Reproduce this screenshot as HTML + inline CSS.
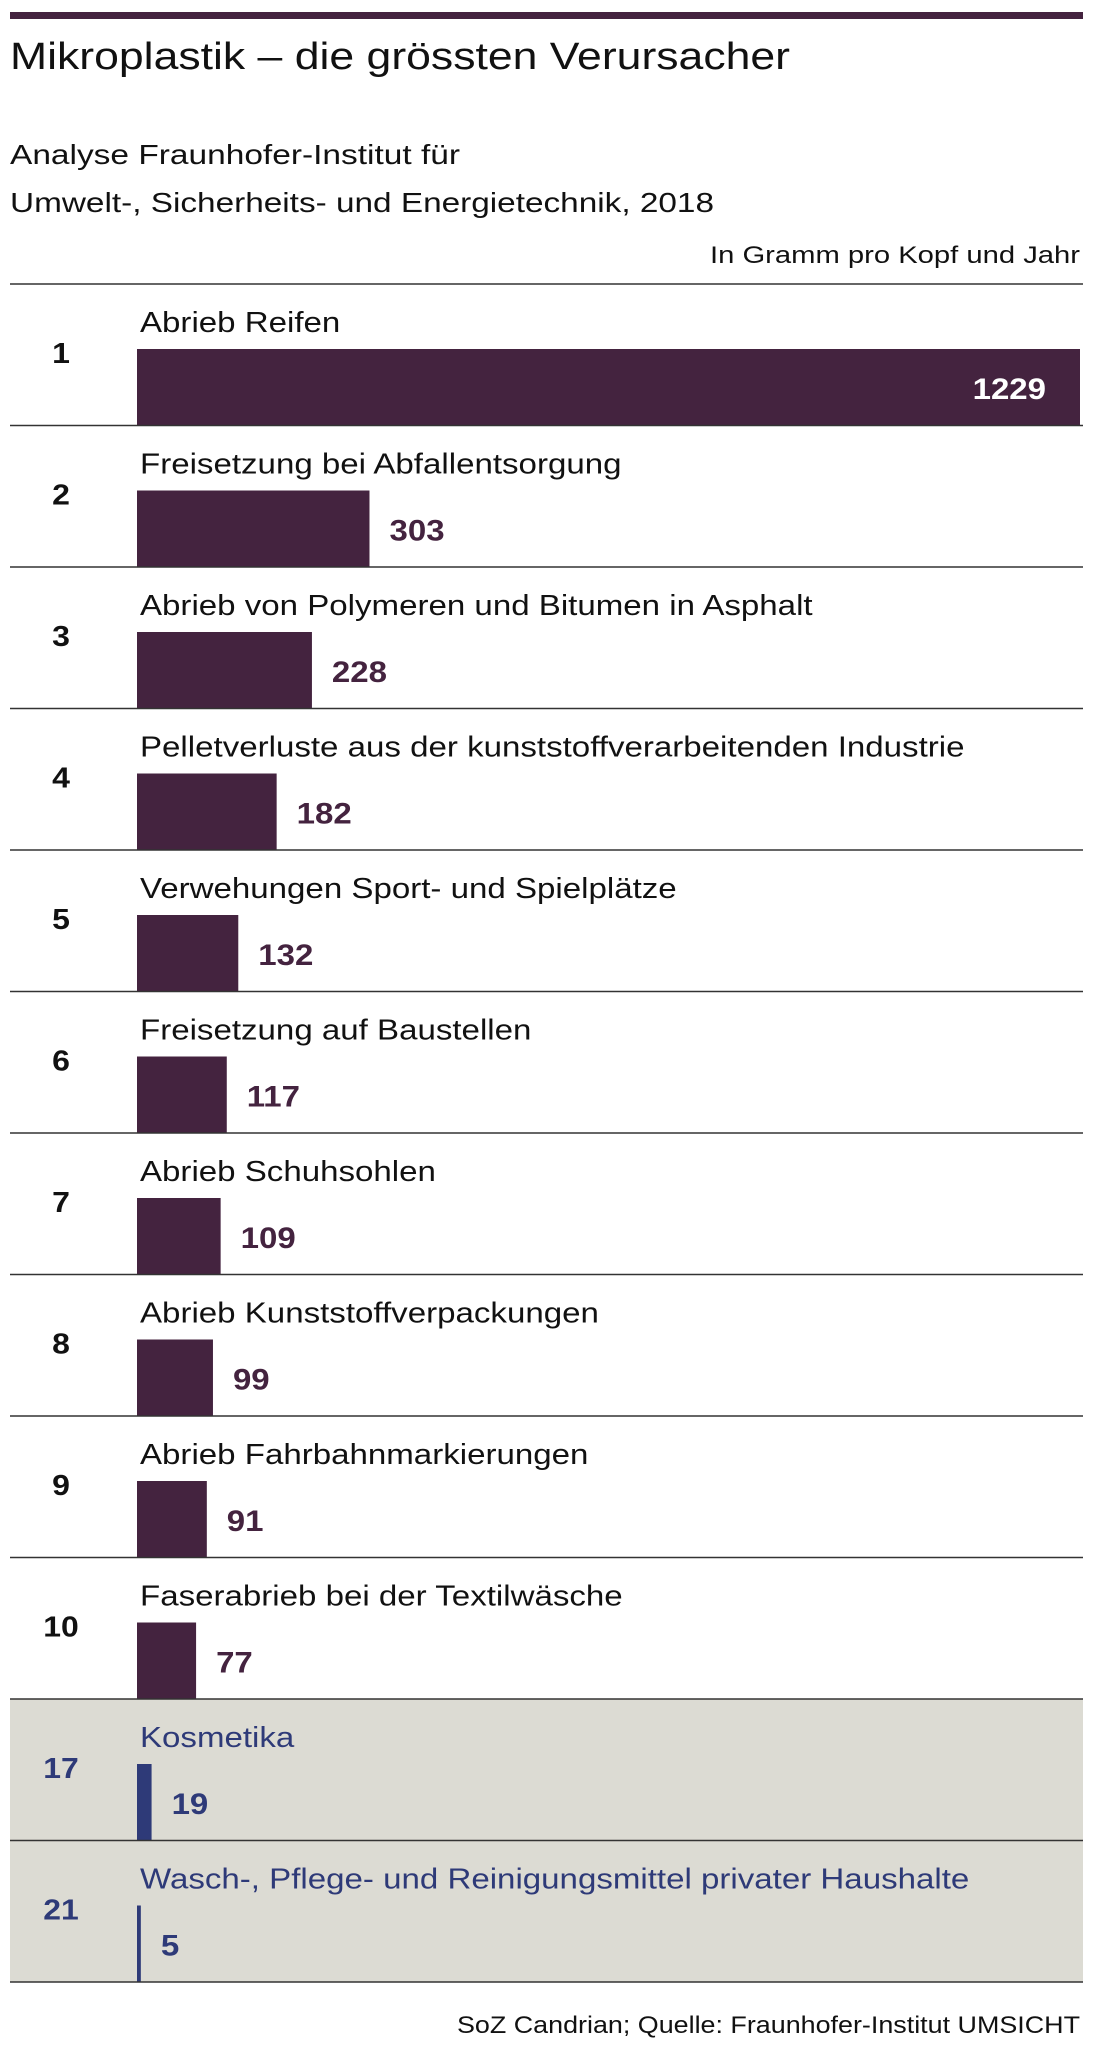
<!DOCTYPE html>
<html><head><meta charset="utf-8">
<style>
html,body{margin:0;padding:0;background:#fff;}
body{width:1093px;height:2048px;overflow:hidden;font-family:"Liberation Sans",sans-serif;}
svg{display:block}
</style></head>
<body>
<svg id="chart" width="1093" height="2048" xmlns="http://www.w3.org/2000/svg" font-family="Liberation Sans, sans-serif">
  <rect x="10" y="12" width="1073" height="7" fill="#44233f"/>
  <text x="10" y="69" font-size="38" fill="#111" textLength="780" lengthAdjust="spacingAndGlyphs">Mikroplastik – die grössten Verursacher</text>
  <text x="10" y="164" font-size="28" fill="#111" textLength="450" lengthAdjust="spacingAndGlyphs">Analyse Fraunhofer-Institut für</text>
  <text x="10" y="212" font-size="28" fill="#111" textLength="704" lengthAdjust="spacingAndGlyphs">Umwelt-, Sicherheits- und Energietechnik, 2018</text>
  <text x="1080" y="263" font-size="24" fill="#111" text-anchor="end" textLength="370" lengthAdjust="spacingAndGlyphs">In Gramm pro Kopf und Jahr</text>
  <g id="rows"></g>
  <text x="1080" y="2033" font-size="24" fill="#111" text-anchor="end" textLength="623" lengthAdjust="spacingAndGlyphs">SoZ Candrian; Quelle: Fraunhofer-Institut UMSICHT</text>
</svg>
<script>
const ranks = ["1","2","3","4","5","6","7","8","9","10","17","21"];
const categories = ["Abrieb Reifen","Freisetzung bei Abfallentsorgung","Abrieb von Polymeren und Bitumen in Asphalt","Pelletverluste aus der kunststoffverarbeitenden Industrie","Verwehungen Sport- und Spielplätze","Freisetzung auf Baustellen","Abrieb Schuhsohlen","Abrieb Kunststoffverpackungen","Abrieb Fahrbahnmarkierungen","Faserabrieb bei der Textilwäsche","Kosmetika","Wasch-, Pflege- und Reinigungsmittel privater Haushalte"];
const values = [1229,303,228,182,132,117,109,99,91,77,19,5];
const highlighted = [false,false,false,false,false,false,false,false,false,false,true,true];

const NS="http://www.w3.org/2000/svg";
const g=document.getElementById('rows');
const top0=284, rowH=141.5, x0=137, xMax=1080;
const maxV=Math.max(...values);
function xScale(v){return x0+(xMax-x0)*v/maxV;}
function mk(tag,attrs){const e=document.createElementNS(NS,tag);for(const k in attrs)e.setAttribute(k,attrs[k]);return e;}
function widen(t,f){const l=t.getComputedTextLength();t.setAttribute('textLength',(l*f).toFixed(1));t.setAttribute('lengthAdjust','spacingAndGlyphs');}

for(let i=0;i<values.length;i++){
  const y=top0+i*rowH;
  const hl=highlighted[i];
  const col=hl?"#2e3a78":"#44233f";
  if(hl){
    const bg=mk('rect',{x:10,y:y,width:1073,height:rowH,fill:"#dcdbd3"});
    
    
    g.appendChild(bg);
  }
  const line=mk('line',{x1:10,x2:1083,y1:y,y2:y,stroke:"#333","stroke-width":1.6});
  
  
  g.appendChild(line);
  const rk=mk('text',{x:61,y:y+79,"font-size":29,"font-weight":"bold","text-anchor":"middle",fill:hl?col:"#111"});
  rk.textContent=ranks[i];
  
  
  g.appendChild(rk);
  widen(rk,1.1);
  const lb=mk('text',{x:140,y:y+48,"font-size":29,fill:hl?col:"#111"});
  lb.textContent=categories[i];
  
  
  g.appendChild(lb);
  widen(lb,1.14);
  const w=Math.max(xScale(values[i])-x0,2);
  const bar=mk('rect',{x:x0,y:y+65,width:w,height:rowH-65,fill:col});
  
  
  g.appendChild(bar);
  const inside = w>400;
  const vt=mk('text',{x:inside?x0+w-34:x0+w+20,y:y+115,"font-size":30,"font-weight":"bold","text-anchor":inside?"end":"start",fill:inside?"#fff":col});
  vt.textContent=values[i];
  
  
  g.appendChild(vt);
  widen(vt,1.1);
}
const yb=top0+values.length*rowH;
const last=mk('line',{x1:10,x2:1083,y1:yb,y2:yb,stroke:"#333","stroke-width":1.6});


g.appendChild(last);
</script>
</body></html>
